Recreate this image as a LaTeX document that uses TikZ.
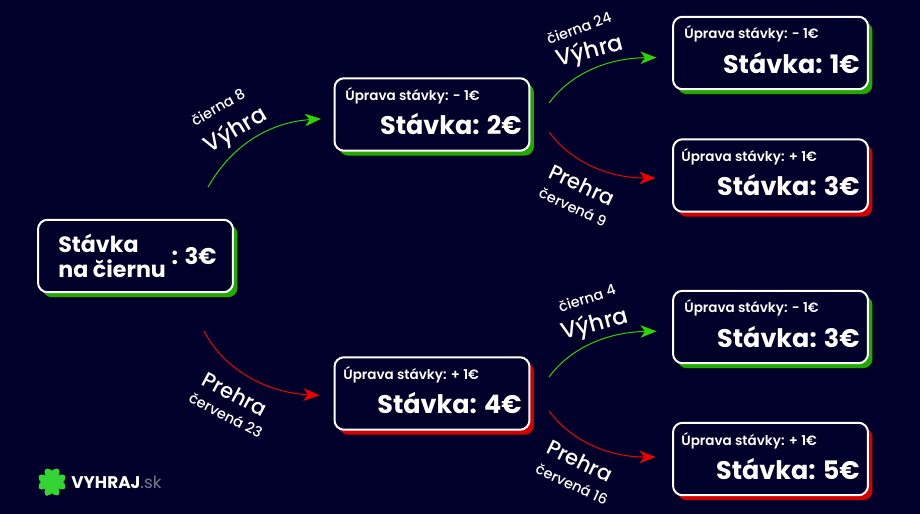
\documentclass[tikz,border=0pt]{standalone}
\usepackage{fontspec}
\setmainfont{Poppins}
\newfontfamily\medfont{Poppins Medium}
\newfontfamily\semifont{Poppins SemiBold}
\usepackage{xcolor}
\definecolor{bgnavy}{HTML}{00002A}
\definecolor{wingreen}{HTML}{22A900}
\definecolor{winarrowgreen}{HTML}{2BD600}
\definecolor{lossred}{HTML}{D40000}
\definecolor{lossarrowred}{HTML}{EE0000}
\definecolor{clovergreen}{HTML}{35D435}
\definecolor{logogray}{HTML}{77778A}
\usetikzlibrary{arrows.meta, shadows}
\tikzset{
  >={Stealth[length=0.32cm, width=0.25cm, inset=0.09cm]},
  betbox/.style={
    rectangle, rounded corners=0.19cm, draw=white, line width=0.04cm,
    fill=bgnavy, minimum width=3.9cm, minimum height=1.45cm, inner sep=0pt
  },
  winbox/.style={betbox,
    general shadow={shadow xshift=0.09cm, shadow yshift=-0.1cm, fill=wingreen}
  },
  lossbox/.style={betbox,
    general shadow={shadow xshift=0.09cm, shadow yshift=-0.1cm, fill=lossred}
  },
  adjtext/.style={anchor=base west, inner sep=0pt, white, font=\fontsize{7.7}{9}\semifont},
  bettext/.style={anchor=base east, inner sep=0pt, white, font=\fontsize{14.5}{18}\selectfont\bfseries},
  wintext/.style={white, font=\fontsize{13}{16}\medfont},
  losstext/.style={white, font=\fontsize{12}{16}\medfont},
  numtext/.style={white, font=\fontsize{8.2}{10}\medfont},
  winarrow/.style={->, winarrowgreen, line width=0.02cm},
  lossarrow/.style={->, lossarrowred, line width=0.02cm}
}

\begin{document}
\begin{tikzpicture}[x=0.02cm, y=-0.02cm]

\useasboundingbox (0,0) rectangle (920,514);
\fill[bgnavy] (0,0) rectangle (920,514);

% First bet
\node[winbox] (root) at (135.5,256) {};
\node[anchor=west, inner sep=0pt, white, align=left, font=\fontsize{12.6}{13.8}\selectfont\bfseries] (rootname) at (58,256)
  {Stávka\\na čiernu};
\node[anchor=base east, inner sep=0pt, white, font=\fontsize{13}{18}\selectfont\bfseries] (rootbet) at (217,264) {: 3€};

% Second round
\node[winbox] (midup) at (432,114.5) {};
\node[adjtext] (midupadj) at (345,100) {Úprava stávky: - 1€};
\node[bettext] (midupbet) at (522,134) {Stávka: 2€};

\node[lossbox] (middown) at (432,393.5) {};
\node[adjtext] (middownadj) at (343,379) {Úprava stávky: + 1€};
\node[bettext] (middownbet) at (522,413) {Stávka: 4€};

% Third round
\node[winbox] (upwin) at (770.5,53) {};
\node[adjtext] (upwinadj) at (684,38) {Úprava stávky: - 1€};
\node[bettext] (upwinbet) at (860,73) {Stávka: 1€};

\node[lossbox] (uploss) at (770.5,175.5) {};
\node[adjtext] (uplossadj) at (681,161) {Úprava stávky: + 1€};
\node[bettext] (uplossbet) at (860,195) {Stávka: 3€};

\node[winbox] (downwin) at (770.5,327) {};
\node[adjtext] (downwinadj) at (684,312) {Úprava stávky: - 1€};
\node[bettext] (downwinbet) at (860,347) {Stávka: 3€};

\node[lossbox] (downloss) at (770.5,459) {};
\node[adjtext] (downlossadj) at (681,445) {Úprava stávky: + 1€};
\node[bettext] (downlossbet) at (860,479) {Stávka: 5€};

% Free ends of the arrows
\coordinate (rootwin) at (208,187);
\coordinate (rootloss) at (204,331);
\coordinate (upwinfrom) at (549,103);
\coordinate (uplossfrom) at (549,132);
\coordinate (downwinfrom) at (549,377);
\coordinate (downlossfrom) at (549,411);

% Arrows
\draw[winarrow, shorten >=0.25cm] (rootwin) .. controls (235,140) and (275,122) .. ([yshift=-0.07cm]midup.west);
\draw[lossarrow, shorten >=0.28cm] (rootloss) .. controls (225,372) and (270,393) .. ([yshift=-0.05cm]middown.west);
\draw[winarrow, shorten >=0.31cm] (upwinfrom) .. controls (572,72) and (610,58) .. ([yshift=-0.09cm]upwin.west);
\draw[lossarrow, shorten >=0.33cm] (uplossfrom) .. controls (572,163) and (610,178) .. ([yshift=-0.05cm]uploss.west);
\draw[winarrow, shorten >=0.31cm] (downwinfrom) .. controls (572,346) and (610,332) .. ([yshift=-0.08cm]downwin.west);
\draw[lossarrow, shorten >=0.33cm] (downlossfrom) .. controls (572,442) and (610,457) .. ([yshift=0.04cm]downloss.west);

% Labels on the arrows
\node[wintext, rotate=31] (rootwinlab) at (236,131) {Výhra};
\node[numtext, rotate=30] (rootwinnum) at (218,107) {čierna 8};
\node[losstext, rotate=-28] (rootlosslab) at (235,394) {Prehra};
\node[numtext, rotate=-27] (rootlossnum) at (226,415) {červená 23};
\node[wintext, rotate=15] (upwinlab) at (590,52) {Výhra};
\node[numtext, rotate=20] (upwinnum) at (579,28) {čierna 24};
\node[losstext, rotate=-25] (uplosslab) at (582,185) {Prehra};
\node[numtext, rotate=-25] (uplossnum) at (573,207) {červená 9};
\node[wintext, rotate=15] (downwinlab) at (595,325) {Výhra};
\node[numtext, rotate=18] (downwinnum) at (587,298) {čierna 4};
\node[losstext, rotate=-26] (downlosslab) at (580,461) {Prehra};
\node[numtext, rotate=-25] (downlossnum) at (572,484) {červená 16};

% Logo
\foreach \ang in {45,135,225,315} {
  \fill[clovergreen, shift={(52,482)}, rotate=\ang]
    (0,0) .. controls (1,-6) and (9,-11) .. (13,-6) .. controls (15,-3) and (12,-1) .. (9,0)
    .. controls (12,1) and (15,3) .. (13,6) .. controls (9,11) and (1,6) .. (0,0);
}
\draw[clovergreen, line width=0.05cm] (52,482) .. controls (52,489) and (50,492) .. (46,495);
\node[anchor=base west, inner sep=0pt, white, font=\fontsize{9.6}{12}\selectfont\bfseries] (logo) at (71,488)
  {VYHRAJ\textcolor{logogray}{\mdseries.sk}};

\end{tikzpicture}
\end{document}
